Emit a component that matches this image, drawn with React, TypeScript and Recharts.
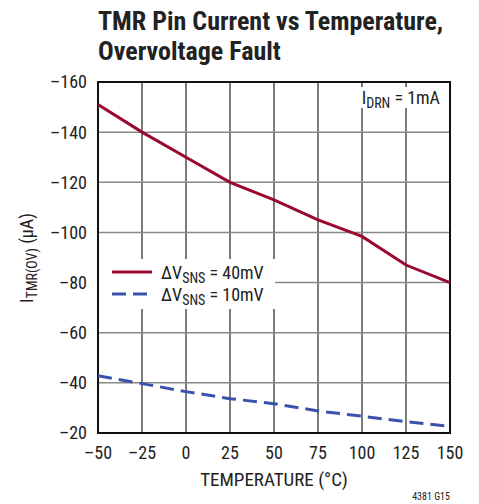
import React from "react";
import {
  LineChart,
  Line,
  XAxis,
  YAxis,
  CartesianGrid,
  Legend,
  ReferenceArea,
} from "recharts";

const temps = [-50, -25, 0, 25, 50, 75, 100, 125, 150];
const tmr40mV = [-151, -140, -130, -120, -113, -105, -98.4, -87, -80];
const tmr10mV = [-42.8, -39.7, -36.5, -33.7, -31.7, -28.8, -26.7, -24.5, -22.6];
const xTicks = [-50, -25, 0, 25, 50, 75, 100, 125, 150];
const yTicks = [-160, -140, -120, -100, -80, -60, -40, -20];

const data = temps.map((t, i) => ({ t, a: tmr40mV[i], b: tmr10mV[i] }));

const FONT = '"Liberation Sans Narrow", "Roboto Condensed", "Liberation Sans", sans-serif';
const RED = "#9a0a2e";
const BLUE = "#3a52ab";

const minus = (v: number) => (v < 0 ? "\u2013" + Math.abs(v) : String(v));

const LegendBox = () => (
  <div
    style={{
      background: "#fff",
      width: 176,
      height: 50,
      fontFamily: FONT,
      fontSize: 18,
      color: "#222",
      paddingTop: 2,
      boxSizing: "border-box",
    }}
  >
    {[
      { c: RED, dash: undefined, v: "40mV" },
      { c: BLUE, dash: "14 7", v: "10mV" },
    ].map((r, i) => (
      <div key={i} style={{ display: "flex", alignItems: "center", height: 22 }}>
        <svg width={62} height={6}>
          <line x1={13} x2={53} y1={3} y2={3} stroke={r.c} strokeWidth={3} strokeDasharray={r.dash} />
        </svg>
        <span>
          ΔV<span style={{ fontSize: 14, position: "relative", top: 4 }}>SNS</span> = {r.v}
        </span>
      </div>
    ))}
  </div>
);

export default function App() {
  return (
    <div style={{ position: "absolute", left: 0, top: 0, width: 479, height: 504, background: "#fff" }}>
      <div
        style={{
          position: "absolute",
          left: 98,
          top: 6,
          fontFamily: FONT,
          fontWeight: "bold",
          fontSize: 26,
          lineHeight: "30px",
          color: "#222",
        }}
      >
        TMR Pin Current vs Temperature,
        <br />
        Overvoltage Fault
      </div>
      <LineChart
        width={479}
        height={504}
        data={data}
        margin={{ top: 82, right: 29, bottom: 41, left: 38 }}
        style={{ fontFamily: FONT }}
      >
        <CartesianGrid horizontal={false} stroke="#222" strokeWidth={1.2} />
        <CartesianGrid vertical={false} stroke="#888" strokeWidth={1.5} />
        <XAxis
          dataKey="t"
          type="number"
          domain={[-50, 150]}
          ticks={xTicks}
          tickFormatter={minus}
          axisLine={false}
          tickLine={false}
          tickSize={0}
          tickMargin={13}
          height={30}
          tick={{ fill: "#222", fontSize: 18 }}
          label={{
            content: () => (
              <g>
                <text x={274} y={486} textAnchor="middle" fontSize={19} fill="#222">
                  TEMPERATURE (°C)
                </text>
                <text x={450} y={500} textAnchor="end" fontSize={10} fill="#222">
                  4381 G15
                </text>
              </g>
            ),
          }}
        />
        <YAxis
          type="number"
          domain={[-160, -20]}
          reversed
          ticks={yTicks}
          tickFormatter={minus}
          axisLine={false}
          tickLine={false}
          tickSize={0}
          tickMargin={11}
          width={60}
          tick={{ fill: "#222", fontSize: 18 }}
          label={{
            content: () => (
              <text
                transform="translate(33,258) rotate(-90)"
                textAnchor="middle"
                fontSize={18}
                fill="#222"
              >
                I<tspan dy={4} fontSize={14}>TMR(OV)</tspan>
                <tspan dy={-4}> (µA)</tspan>
              </text>
            ),
          }}
        />
        <ReferenceArea
          x1={-50}
          x2={150}
          y1={-160}
          y2={-20}
          fill="none"
          stroke="#111"
          strokeWidth={2}
          fillOpacity={0}
          ifOverflow="visible"
        />
        <Line
          dataKey="a"
          stroke={RED}
          strokeWidth={3}
          dot={false}
          type="linear"
          isAnimationActive={false}
        />
        <Line
          dataKey="b"
          stroke={BLUE}
          strokeWidth={3}
          strokeDasharray="14 7"
          dot={false}
          type="linear"
          isAnimationActive={false}
        />
        <Legend
          layout="vertical"
          align="center"
          verticalAlign="middle"
          content={() => <LegendBox />}
          wrapperStyle={{ left: 99, top: 259, width: 176, height: 50 }}
        />
      </LineChart>
      <div
        style={{
          position: "absolute",
          right: 37,
          top: 87,
          background: "#fff",
          fontFamily: FONT,
          fontSize: 18,
          color: "#222",
          padding: "0 2px",
        }}
      >
        I<span style={{ fontSize: 14, position: "relative", top: 4 }}>DRN</span> = 1mA
      </div>
    </div>
  );
}
